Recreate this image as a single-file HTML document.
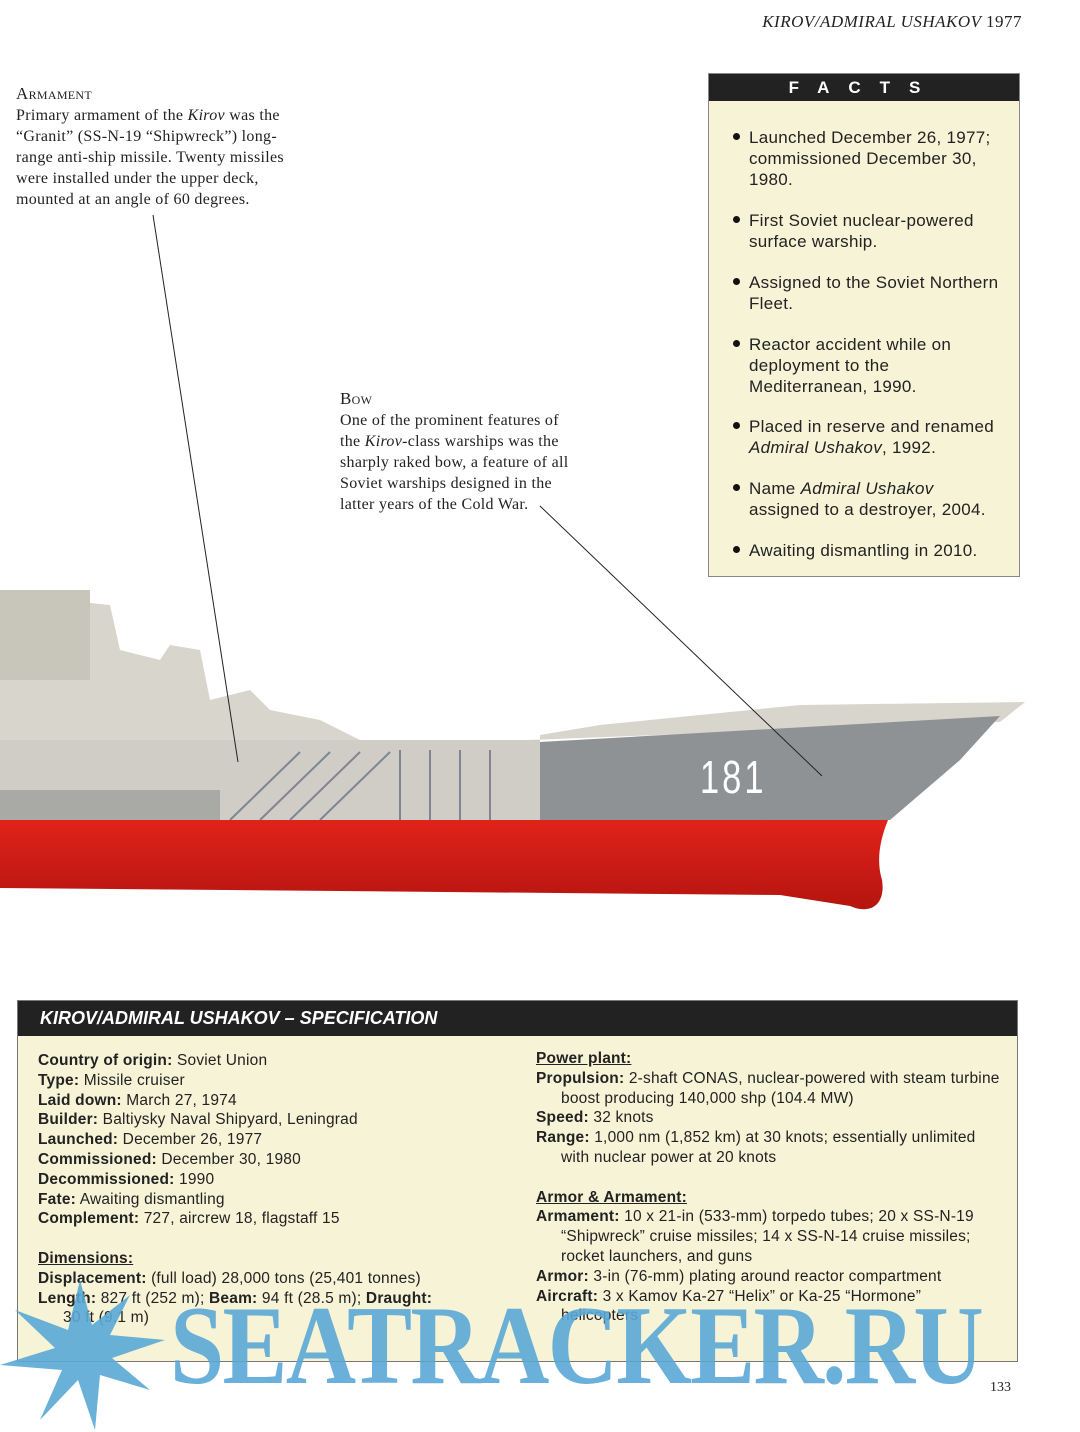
<!DOCTYPE html>
<html><head><meta charset="utf-8"><style>
body{margin:0;width:1080px;height:1432px;background:#fff;position:relative;overflow:hidden;font-family:"Liberation Serif",serif;color:#222}
.a{position:absolute}
.cap{font-size:16px;line-height:21px;letter-spacing:.3px}
.cap b{font-variant:small-caps;font-weight:normal;font-size:17px}
.facts{left:708px;top:73px;width:312px;height:504px;background:#f6f3d6;border:1px solid #888;box-sizing:border-box}
.fh{background:#222;color:#fff;height:27px;font:bold 17px "Liberation Sans",sans-serif;letter-spacing:19px;text-align:center;line-height:28px}
.fl{position:absolute;left:40px;font:17px/21px "Liberation Sans",sans-serif;color:#222;width:258px;letter-spacing:.3px}
.fl:before{content:"";position:absolute;left:-16px;top:6px;width:7px;height:7px;border-radius:50%;background:#111}
.spec{left:17px;top:1000px;width:1001px;height:362px;background:#f6f3d6;border:1px solid #777;box-sizing:border-box}
.sh{background:#222;color:#fff;height:35px;font:italic bold 18px "Liberation Sans",sans-serif;line-height:34px;padding-left:22px}
.sc{position:absolute;font:15.5px/19.8px "Liberation Sans",sans-serif;color:#222;letter-spacing:.2px}
.sc p{margin:0;white-space:nowrap}.sc .i{padding-left:25px}
.sc u{font-weight:bold}
</style></head><body>
<div class="a" style="right:58px;top:12px;font-style:italic;font-size:17px;letter-spacing:.5px">KIROV/ADMIRAL USHAKOV <span style="font-style:normal">1977</span></div>
<div class="a cap" style="left:16px;top:83px;width:282px"><b>Armament</b><br>Primary armament of the <i>Kirov</i> was the “Granit” (SS-N-19 “Shipwreck”) long-range anti-ship missile. Twenty missiles were installed under the upper deck, mounted at an angle of 60 degrees.</div>
<div class="a cap" style="left:340px;top:388px;width:236px"><b>Bow</b><br>One of the prominent features of the <i>Kirov</i>-class warships was the sharply raked bow, a feature of all Soviet warships designed in the latter years of the Cold War.</div>
<div class="a facts"><div class="fh">FACTS</div>
<div class="fl" style="top:53px">Launched December 26, 1977; commissioned December 30, 1980.</div>
<div class="fl" style="top:136px">First Soviet nuclear-powered surface warship.</div>
<div class="fl" style="top:198px">Assigned to the Soviet Northern Fleet.</div>
<div class="fl" style="top:260px;width:215px">Reactor accident while on deployment to the Mediterranean, 1990.</div>
<div class="fl" style="top:342px">Placed in reserve and renamed <i>Admiral Ushakov</i>, 1992.</div>
<div class="fl" style="top:404px;width:245px">Name <i>Admiral Ushakov</i> assigned to a destroyer, 2004.</div>
<div class="fl" style="top:466px">Awaiting dismantling in 2010.</div>
</div>
<svg class="a" style="left:0;top:0" width="1080" height="1000">
<defs><linearGradient id="r" x1="0" y1="0" x2="0" y2="1"><stop offset="0" stop-color="#e0231a"/><stop offset="1" stop-color="#b5140f"/></linearGradient></defs>
<polygon points="0,630 30,610 60,600 110,605 120,650 160,660 170,645 200,650 210,700 250,690 270,710 320,720 360,740 540,745 540,735 600,725 700,715 800,705 1025,702 1000,722 0,760" fill="#d8d5cc"/>
<rect x="0" y="590" width="90" height="90" fill="#c8c5bb"/>
<polygon points="540,742 1000,716 960,760 890,820 540,820" fill="#8f9294"/>
<rect x="0" y="740" width="540" height="82" fill="#cfcdc6"/>
<rect x="0" y="790" width="220" height="32" fill="#a9a9a6"/>
<g stroke="#7f8593" stroke-width="2"><line x1="230" y1="820" x2="300" y2="752"/><line x1="260" y1="820" x2="330" y2="752"/><line x1="290" y1="820" x2="360" y2="752"/><line x1="320" y1="820" x2="390" y2="752"/><line x1="400" y1="750" x2="400" y2="820"/><line x1="430" y1="750" x2="430" y2="820"/><line x1="460" y1="750" x2="460" y2="820"/><line x1="490" y1="750" x2="490" y2="820"/></g>
<path d="M0,820 L888,820 C880,840 876,860 882,880 C886,905 870,915 850,906 L780,895 L0,888 Z" fill="url(#r)"/>
<text x="700" y="793" font-family="Liberation Sans,sans-serif" font-size="46" fill="#fff" transform="translate(700 0) scale(.75 1) translate(-700 0)" letter-spacing="4">181</text>
<line x1="153" y1="215" x2="238" y2="762" stroke="#222" stroke-width="1"/>
<line x1="540" y1="506" x2="822" y2="776" stroke="#222" stroke-width="1"/>
</svg>
<div class="a spec"><div class="sh">KIROV/ADMIRAL USHAKOV – SPECIFICATION</div>
<div class="sc" style="left:20px;top:50px;width:460px">
<p><b>Country of origin:</b> Soviet Union</p><p><b>Type:</b> Missile cruiser</p><p><b>Laid down:</b> March 27, 1974</p><p><b>Builder:</b> Baltiysky Naval Shipyard, Leningrad</p><p><b>Launched:</b> December 26, 1977</p><p><b>Commissioned:</b> December 30, 1980</p><p><b>Decommissioned:</b> 1990</p><p><b>Fate:</b> Awaiting dismantling</p><p><b>Complement:</b> 727, aircrew 18, flagstaff 15</p><p>&nbsp;</p>
<p><u>Dimensions:</u></p><p><b>Displacement:</b> (full load) 28,000 tons (25,401 tonnes)</p><p><b>Length:</b> 827 ft (252 m); <b>Beam:</b> 94 ft (28.5 m); <b>Draught:</b></p><p class="i">30 ft (9.1 m)</p></div>
<div class="sc" style="left:518px;top:48px;width:470px">
<p><u>Power plant:</u></p><p><b>Propulsion:</b> 2-shaft CONAS, nuclear-powered with steam turbine</p><p class="i">boost producing 140,000 shp (104.4 MW)</p><p><b>Speed:</b> 32 knots</p><p><b>Range:</b> 1,000 nm (1,852 km) at 30 knots; essentially unlimited</p><p class="i">with nuclear power at 20 knots</p><p>&nbsp;</p>
<p><u>Armor &amp; Armament:</u></p><p><b>Armament:</b> 10 x 21-in (533-mm) torpedo tubes; 20 x SS-N-19</p><p class="i">“Shipwreck” cruise missiles; 14 x SS-N-14 cruise missiles;</p><p class="i">rocket launchers, and guns</p><p><b>Armor:</b> 3-in (76-mm) plating around reactor compartment</p><p><b>Aircraft:</b> 3 x Kamov Ka-27 “Helix” or Ka-25 “Hormone”</p><p class="i">helicopters</p></div>
</div>
<svg class="a" style="left:0;top:1270px" width="170" height="162"><polygon fill="#5aa8d6" points="80,10 92,55 130,25 110,65 165,70 112,88 150,120 100,105 95,160 78,110 40,150 62,100 0,95 55,78 15,40 68,60" opacity=".9"/></svg>
<div class="a" style="left:170px;top:1290px;font:bold 112px/112px 'Liberation Serif',serif;color:#5aa8d6;opacity:.9;letter-spacing:-2px;transform:scaleX(.87);transform-origin:left;white-space:nowrap">SEATRACKER.RU</div>
<div class="a" style="left:990px;top:1380px;font-size:14px">133</div>
</body></html>
